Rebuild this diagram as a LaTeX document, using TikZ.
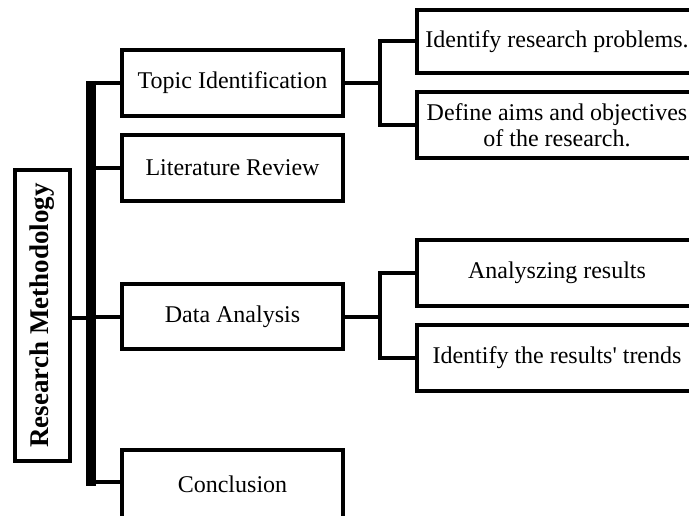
\documentclass[tikz,border=0pt]{standalone}
\usepackage{fontspec}
\setmainfont{Liberation Serif}
\begin{document}
\begin{tikzpicture}[x=1pt,y=-1pt,
  box/.style={draw=black,line width=4.5pt,rectangle,inner sep=0pt,align=center,
    font=\fontsize{24}{26}\selectfont,text=black},
  midbox/.style={box,minimum width=221pt,minimum height=66pt},
  leafbox/.style={box,minimum width=280pt,minimum height=66pt},
  conn/.style={line width=4pt,line cap=rect},
  spine/.style={line width=10pt}]
\useasboundingbox (0,0) rectangle (689,516);
\clip (0,0) rectangle (689,516);
\fill[white] (0,0) rectangle (689,516);

% root
\node[box,rotate=90,minimum width=291pt,minimum height=55pt,
  font=\fontsize{27}{30}\selectfont\bfseries] (root) at (42.5,315.5) {Research Methodology};

% middle boxes
\node[midbox] (topic) at (232.5,83) {Topic Identification};
\node[midbox] (lit) at (232.5,168) {Literature Review};
\node[midbox,minimum height=65pt] (data) at (232.5,316.5) {Data Analysis};
\node[midbox,minimum height=72pt] (concl) at (232.5,486) {\raisebox{3pt}{Conclusion}};

% leaf boxes
\node[leafbox,minimum height=63pt] (irp) at (557,41.5) {Identify research problems.};
\node[leafbox] (dao) at (557,125) {Define aims and objectives\\of the research.};
\node[leafbox] (ar) at (557,273) {Analyszing results};
\node[leafbox] (irt) at (557,358) {Identify the results\textquotesingle{} trends};

% spine
\coordinate (bartop) at (91,81);
\coordinate (barbot) at (91,486);
\draw[spine] (bartop) -- (barbot);

% root to spine
\coordinate (rj) at (91,318);
\draw[conn,line cap=butt] (rj -| root.south) -- (rj);

% spine to middle boxes
\coordinate (cj) at (91,482);
\draw[conn,line cap=butt] (topic.west -| bartop) -- (topic.west);
\draw[conn,line cap=butt] (lit.west -| bartop) -- (lit.west);
\draw[conn,line cap=butt] (data.west -| bartop) -- (data.west);
\draw[conn,line cap=butt] (cj) -- (cj -| concl.west);

% topic branches
\coordinate (tj) at (380,83);
\draw[conn,line cap=butt] (topic.east) -- (tj);
\draw[conn,line join=miter] (irp.west) -- (irp.west -| tj) -- (dao.west -| tj) -- (dao.west);

% data branches
\coordinate (dj) at (380,316.5);
\draw[conn,line cap=butt] (data.east) -- (dj);
\draw[conn,line join=miter] (ar.west) -- (ar.west -| dj) -- (irt.west -| dj) -- (irt.west);
\end{tikzpicture}
\end{document}
